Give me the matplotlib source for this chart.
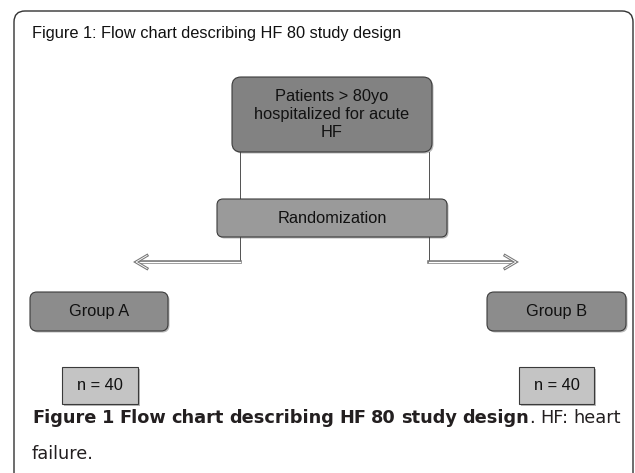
import matplotlib.pyplot as plt
from matplotlib.patches import FancyBboxPatch
import matplotlib.patheffects as pe

# Flow chart content
title = "Figure 1: Flow chart describing HF 80 study design"
top_label = "Patients > 80yo\nhospitalized for acute\nHF"
mid_label = "Randomization"
groups = ["Group A", "Group B"]
group_sizes = [40, 40]
caption_bold = "Figure 1 Flow chart describing HF 80 study design"
caption_rest = "HF: heart"
caption_line2 = "failure."

# layout (pixel space, y downwards)
W, H = 635, 473
fig = plt.figure(figsize=(W / 100, H / 100), dpi=100)
ax = fig.add_axes([0, 0, 1, 1])
ax.set_xlim(0, W)
ax.set_ylim(H, 0)
ax.axis('off')

PX = 0.72  # points per pixel
box_font = dict(family=['Liberation Sans', 'DejaVu Sans'], fontsize=11.8, color='#111111')


def rbox(x0, y0, x1, y1, fc, rad=7, square=False):
    style = "square,pad=0" if square else f"round,pad=0,rounding_size={rad}"
    # soft shadow
    sh = FancyBboxPatch((x0 + 1.5, y0 + 1.5), x1 - x0, y1 - y0, boxstyle=style,
                        fc='#b8b8b8', ec='none', zorder=2)
    ax.add_patch(sh)
    b = FancyBboxPatch((x0, y0), x1 - x0, y1 - y0, boxstyle=style,
                       fc=fc, ec='#3a3a3a', lw=1.1 * PX, zorder=3)
    ax.add_patch(b)
    return b


# outer frame
frame = FancyBboxPatch((14, 11), 619, 480, boxstyle="round,pad=0,rounding_size=11",
                       fc='white', ec='#333333', lw=1.4 * PX, zorder=1)
ax.add_patch(frame)
ax.text(32, 38, title, ha='left', va='baseline', **box_font)

# top box and randomization
rbox(232, 77, 432, 152, '#828282', rad=9)
ax.text(332, 114.5, top_label, ha='center', va='center', linespacing=1.22, zorder=4, **box_font)
rbox(217, 199, 447, 237, '#9a9a9a', rad=6)
ax.text(332, 218, mid_label, ha='center', va='center', zorder=4, **box_font)

# connectors and arrows
conn_x = [239.5, 428.5]
tips = [136, 516]
arrow_y = 262
for vx, tip in zip(conn_x, tips):
    ax.plot([vx, vx], [152, 199], color='#444444', lw=0.9 * PX, zorder=2)
    ax.plot([vx, vx], [237, arrow_y - 1], color='#444444', lw=0.9 * PX, zorder=2)
    d = 1 if tip < vx else -1
    dbl = [pe.Stroke(linewidth=3.6 * PX, foreground='#777777'),
           pe.Stroke(linewidth=1.3 * PX, foreground='white')]
    ln, = ax.plot([vx, tip + d * 2], [arrow_y, arrow_y], color='white', lw=1.3 * PX, zorder=2)
    ln.set_path_effects(dbl)
    hd, = ax.plot([tip + d * 11, tip, tip + d * 11], [arrow_y - 6.5, arrow_y, arrow_y + 6.5],
                  color='white', lw=1.0 * PX, zorder=2, solid_joinstyle='miter')
    hd.set_path_effects([pe.Stroke(linewidth=3.0 * PX, foreground='#777777'),
                         pe.Stroke(linewidth=0.9 * PX, foreground='white')])

# group boxes
group_x = [(30, 168), (487, 626)]
n_x = [(62, 138), (519, 594)]
for (gx0, gx1), name in zip(group_x, groups):
    rbox(gx0, 292, gx1, 331, '#8c8c8c', rad=7)
    ax.text((gx0 + gx1) / 2, 311.5, name, ha='center', va='center', zorder=4, **box_font)
for (nx0, nx1), n in zip(n_x, group_sizes):
    rbox(nx0, 367, nx1, 404, '#c4c4c4', square=True)
    ax.text((nx0 + nx1) / 2, 385.5, f"n = {n}", ha='center', va='center', zorder=4, **box_font)

# caption, first line justified word by word
cap_font = dict(family=['DejaVu Sans'], fontsize=12.8, color='#231f20')
words = [(w, 'bold') for w in caption_bold.split()] + [(w, 'normal') for w in caption_rest.split()]
objs = [ax.text(0, 423, w, ha='left', va='baseline', fontweight=fw, **cap_font) for w, fw in words]
dot = ax.text(0, 423, ".", ha='left', va='baseline', **cap_font)
fig.canvas.draw()
r = fig.canvas.get_renderer()
widths = [o.get_window_extent(r).width for o in objs]
dot_w = dot.get_window_extent(r).width
nb = len(caption_bold.split())
x_left, x_right = 32, 621
gap = (x_right - x_left - sum(widths) - dot_w) / (len(objs) - 1)
x = x_left
for i, (o, w) in enumerate(zip(objs, widths)):
    o.set_x(x)
    x += w
    if i == nb - 1:
        dot.set_x(x)
        x += dot_w
    x += gap
ax.text(32, 459, caption_line2, ha='left', va='baseline', **cap_font)

fig.savefig('out.png', dpi=100)
